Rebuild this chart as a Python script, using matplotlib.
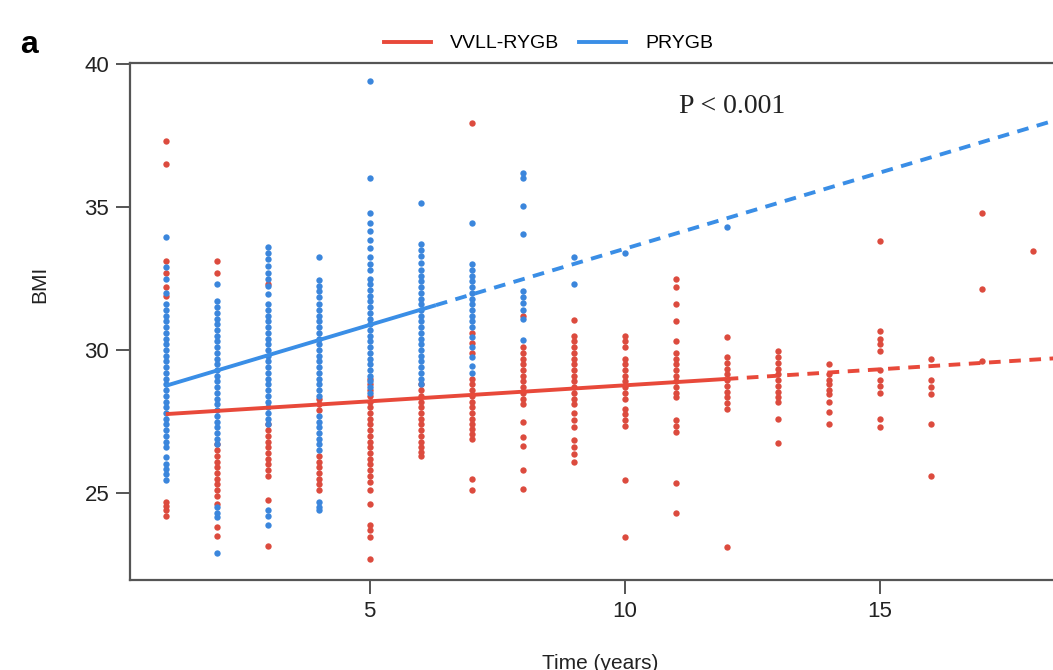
import matplotlib
matplotlib.use('Agg')
import matplotlib.pyplot as plt
from matplotlib.lines import Line2D

# follow-up years (one column of points per year)
years = [1, 2, 3, 4, 5, 6, 7, 8, 9, 10, 11, 12, 13, 14, 15, 16, 17, 18]

# BMI readings per year, VVLL-RYGB group
vvll_bmi = [
    [37.3, 36.5, 33.1, 32.7, 32.2, 31.9, 24.7, 24.55, 24.4, 24.2],
    [33.1, 32.7, 26.7, 26.5, 26.3, 26.1, 25.9, 25.7, 25.5, 25.3, 25.1, 24.9, 24.6, 23.8, 23.5],
    [32.3, 27.4, 27.2, 27.0, 26.8, 26.6, 26.4, 26.2, 26.0, 25.8, 25.6, 24.75, 23.15],
    [28.3, 28.1, 27.9, 26.3, 26.1, 25.9, 25.7, 25.5, 25.3, 25.1],
    [29.0, 28.8, 28.6, 28.4, 28.2, 28.0, 27.8, 27.6, 27.4, 27.2, 27.0, 26.8, 26.6, 26.4,
     26.2, 26.0, 25.8, 25.6, 25.4, 25.1, 24.6, 23.9, 23.7, 23.45, 22.7],
    [28.8, 28.6, 28.4, 28.2, 28.0, 27.8, 27.6, 27.4, 27.2, 27.0, 26.8, 26.6, 26.45, 26.3],
    [37.95, 30.6, 30.25, 29.9, 29.0, 28.8, 28.6, 28.4, 28.2, 28.0, 27.8, 27.6,
     27.4, 27.25, 27.05, 26.9, 25.5, 25.1],
    [31.2, 30.1, 29.9, 29.7, 29.5, 29.3, 29.1, 28.9, 28.7, 28.5, 28.3, 28.1,
     27.5, 26.95, 26.65, 25.8, 25.15],
    [31.05, 30.5, 30.3, 30.1, 29.9, 29.7, 29.5, 29.3, 29.1, 28.9, 28.7, 28.5, 28.3, 28.1,
     27.8, 27.55, 27.3, 26.85, 26.6, 26.35, 26.1],
    [30.5, 30.3, 30.1, 29.7, 29.5, 29.3, 29.1, 28.9, 28.7, 28.5, 28.3,
     27.95, 27.75, 27.55, 27.35, 25.45, 23.45],
    [32.5, 32.2, 31.6, 31.0, 30.3, 29.9, 29.7, 29.5, 29.3, 29.1, 28.9, 28.7, 28.5, 28.35,
     27.55, 27.35, 27.15, 25.35, 24.3],
    [30.45, 29.75, 29.55, 29.35, 29.15, 28.95, 28.75, 28.55, 28.35, 28.15, 27.95, 23.1],
    [29.95, 29.75, 29.55, 29.35, 29.15, 28.95, 28.75, 28.55, 28.35, 28.2, 27.6, 26.75],
    [29.5, 29.15, 28.95, 28.8, 28.6, 28.45, 28.2, 27.85, 27.4],
    [33.8, 30.65, 30.4, 30.2, 29.95, 29.3, 28.95, 28.75, 28.5, 27.6, 27.3],
    [29.7, 28.95, 28.7, 28.45, 27.4, 25.6],
    [34.8, 32.15, 29.6],
    [33.45],
]

# BMI readings per year, PRYGB group
prygb_bmi = [
    [33.95, 32.9, 32.5, 32.0, 31.6, 31.4, 31.2, 31.0, 30.8, 30.6, 30.4, 30.2, 30.0, 29.8,
     29.6, 29.4, 29.2, 29.0, 28.8, 28.6, 28.4, 28.2, 28.0, 27.8, 27.6, 27.4, 27.2, 27.0,
     26.8, 26.6, 26.25, 26.0, 25.85, 25.65, 25.45],
    [32.3, 31.7, 31.5, 31.3, 31.1, 30.9, 30.7, 30.5, 30.3, 30.1, 29.9, 29.7, 29.5, 29.3,
     29.1, 28.9, 28.7, 28.5, 28.3, 28.1, 27.9, 27.7, 27.5, 27.3, 27.1, 26.9, 26.7,
     24.5, 24.3, 24.15, 22.9],
    [33.6, 33.4, 33.2, 32.95, 32.7, 32.5, 32.25, 31.95, 31.6, 31.4, 31.2, 31.0, 30.8, 30.6,
     30.4, 30.2, 30.0, 29.8, 29.6, 29.4, 29.2, 29.0, 28.8, 28.6, 28.4, 28.2, 28.0, 27.8,
     27.6, 27.4, 24.4, 24.2, 23.9],
    [33.25, 32.45, 32.25, 32.05, 31.85, 31.6, 31.4, 31.2, 31.0, 30.8, 30.6, 30.4, 30.2,
     30.0, 29.8, 29.6, 29.4, 29.2, 29.0, 28.8, 28.6, 28.4, 27.7, 27.5, 27.3, 27.1, 26.9,
     26.7, 26.5, 24.7, 24.5, 24.4],
    [39.4, 36.0, 34.8, 34.45, 34.15, 33.85, 33.55, 33.25, 33.0, 32.8, 32.5, 32.3, 32.1,
     31.9, 31.7, 31.5, 31.3, 31.1, 30.9, 30.7, 30.5, 30.3, 30.1, 29.9, 29.7, 29.5, 29.3,
     29.1, 28.9, 28.7, 28.5],
    [35.15, 33.7, 33.5, 33.3, 33.05, 32.8, 32.6, 32.4, 32.2, 32.0, 31.8, 31.6, 31.4, 31.2,
     31.0, 30.8, 30.6, 30.4, 30.2, 30.0, 29.8, 29.6, 29.4, 29.2, 29.0, 28.8],
    [34.45, 33.0, 32.8, 32.6, 32.4, 32.2, 32.0, 31.8, 31.6, 31.4, 31.2, 31.0, 30.8,
     30.45, 30.1, 29.75, 29.45, 29.2],
    [36.2, 36.0, 35.05, 34.05, 32.05, 31.85, 31.65, 31.4, 31.1, 30.35],
    [33.25, 32.3],
    [33.4],
    [],
    [34.3],
    [], [], [], [], [], [],
]

# fitted trajectories: observed range solid, extrapolation dashed
vvll_fit_t = [1, 12, 18.7]
vvll_fit_bmi = [27.76, 28.99, 29.74]
prygb_fit_t = [1, 6.3, 18.7]
prygb_fit_bmi = [28.75, 31.57, 38.17]

groups = ['VVLL-RYGB', 'PRYGB']
line_colors = ['#E8493A', '#3A8EE6']
point_colors = ['#DC4B3E', '#3B86DC']


def column_points(bmi_by_year):
    xs, ys = [], []
    for t, vals in zip(years, bmi_by_year):
        xs += [t] * len(vals)
        ys += vals
    return xs, ys


fig = plt.figure(figsize=(10.53, 6.7), dpi=100)
ax = fig.add_axes([0.1235, 0.1339, 0.891, 0.7727])

for bmi, col in zip([vvll_bmi, prygb_bmi], point_colors):
    xs, ys = column_points(bmi)
    ax.scatter(xs, ys, s=21, color=col, linewidths=0, zorder=2)

for fit_t, fit_bmi, col in [(vvll_fit_t, vvll_fit_bmi, line_colors[0]),
                            (prygb_fit_t, prygb_fit_bmi, line_colors[1])]:
    ax.plot(fit_t[:2], fit_bmi[:2], color=col, lw=2.8, solid_capstyle='butt', zorder=3)
    ax.plot(fit_t[1:], fit_bmi[1:], color=col, lw=2.8, ls=(0, (3.0, 2.2)), zorder=3)

ax.set_xlim(0.3, 18.7)
ax.set_ylim(21.95, 40.05)
ax.set_xticks([5, 10, 15])
ax.set_yticks([25, 30, 35, 40])

for side in ['left', 'bottom', 'top', 'right']:
    ax.spines[side].set_color('#555555')
    ax.spines[side].set_linewidth(1.6)
ax.tick_params(length=10, width=1.4, color='#555555', pad=5,
               labelsize=16, labelcolor='#222222')
for lab in ax.get_xticklabels() + ax.get_yticklabels():
    lab.set_family('Liberation Sans')

fig.text(0.038, 0.575, 'BMI', rotation=90, ha='center', va='center',
         fontsize=15, family='Liberation Sans', color='#222222')
fig.text(0.57, 0.009, 'Time (years)', ha='center', va='center',
         fontsize=15, family='Liberation Sans', color='#222222')
fig.text(0.019, 0.933, 'a', ha='left', va='center', fontsize=23,
         fontweight='bold', family='Liberation Sans')
ax.text(12.1, 38.5, 'P < 0.001', ha='center', va='center', fontsize=20,
        family='Liberation Serif', color='#222222')

handles = [Line2D([], [], color=c, lw=2.8) for c in line_colors]
fig.legend(handles, groups, loc='center', bbox_to_anchor=(0.521, 0.935), ncol=2,
           frameon=False, handlelength=2.4, columnspacing=1.0, handletextpad=1.0,
           prop={'family': 'Liberation Sans', 'size': 14})

fig.savefig('out.png', dpi=100)
